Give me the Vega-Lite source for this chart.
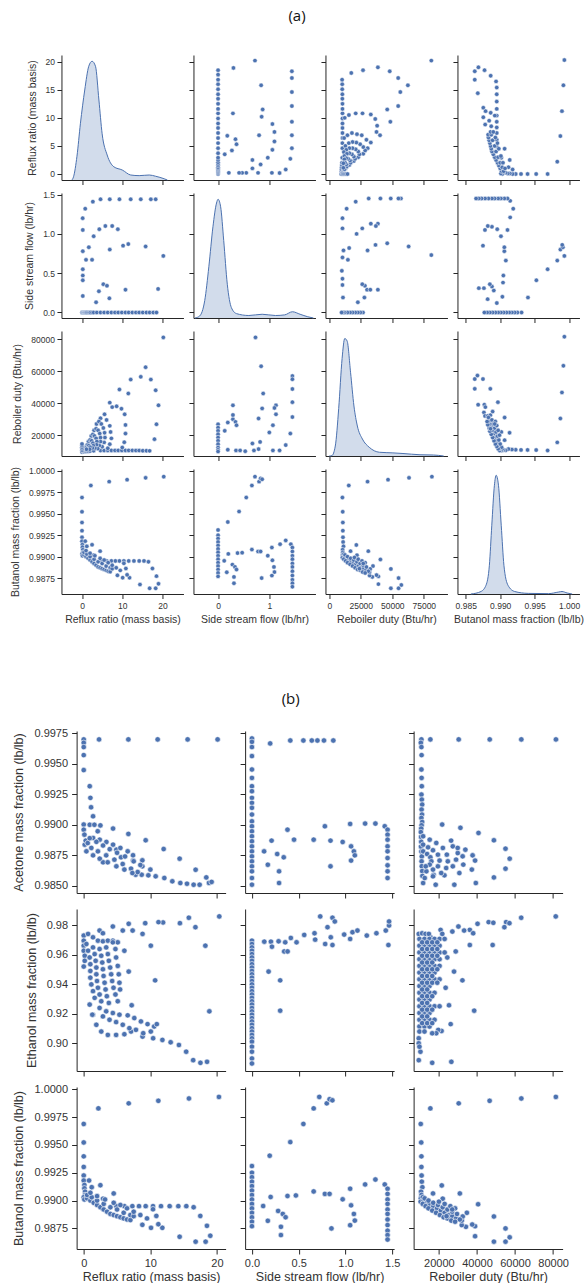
{
"$schema": "https://vega.github.io/schema/vega-lite/v6.json",
"padding": {"left": 10, "top": 9, "right": 0, "bottom": 0},
"background": "white",
"config": {
  "view": {"stroke": null},
  "axis": {"domainColor": "#262626", "tickColor": "#262626", "labelColor": "#333333", "titleColor": "#333333", "grid": false, "labelFont": "Liberation Sans", "titleFont": "Liberation Sans", "titleFontWeight": "normal", "domainWidth": 1, "tickWidth": 1, "tickSize": 4.5, "labelFontSize": 8.5, "titleFontSize": 10.5, "labelPadding": 2.5, "labelFlush": false, "labelOverlap": false},
  "axisX": {"titlePadding": 5},
  "axisY": {"titlePadding": 8},
  "title": {"font": "Open Sans", "fontSize": 15, "fontWeight": "normal", "color": "#111111", "anchor": "middle"}
},
"datasets": {
"kde_rr": [{"RR":-2.5,"density":0},{"RR":-2.1,"density":0.026},{"RR":-1.25,"density":0.19},{"RR":-0.4,"density":0.45},{"RR":0.68,"density":0.72},{"RR":1.68,"density":0.91},{"RR":2.5,"density":0.95},{"RR":3.35,"density":0.91},{"RR":4.2,"density":0.64},{"RR":5.0,"density":0.37},{"RR":6.25,"density":0.2},{"RR":7.9,"density":0.106},{"RR":10,"density":0.08},{"RR":12.1,"density":0.04},{"RR":14.2,"density":0.035},{"RR":16.7,"density":0.04},{"RR":18.3,"density":0.03},{"RR":20.4,"density":0.01},{"RR":21.2,"density":0}],
"kde_ss": [{"SS":-0.45,"density":0},{"SS":-0.36,"density":0.016},{"SS":-0.26,"density":0.14},{"SS":-0.18,"density":0.41},{"SS":-0.1,"density":0.73},{"SS":-0.03,"density":0.92},{"SS":0,"density":0.95},{"SS":0.05,"density":0.89},{"SS":0.11,"density":0.62},{"SS":0.18,"density":0.27},{"SS":0.26,"density":0.083},{"SS":0.36,"density":0.035},{"SS":0.6,"density":0.02},{"SS":0.86,"density":0.03},{"SS":1.12,"density":0.02},{"SS":1.3,"density":0.025},{"SS":1.45,"density":0.05},{"SS":1.6,"density":0.03},{"SS":1.75,"density":0.01},{"SS":1.86,"density":0}],
"kde_rd": [{"RD":0,"density":0},{"RD":2100,"density":0.003},{"RD":4800,"density":0.08},{"RD":7500,"density":0.38},{"RD":10200,"density":0.78},{"RD":12300,"density":0.94},{"RD":14200,"density":0.92},{"RD":16900,"density":0.67},{"RD":19600,"density":0.4},{"RD":22300,"density":0.24},{"RD":26300,"density":0.136},{"RD":31700,"density":0.07},{"RD":39800,"density":0.03},{"RD":50500,"density":0.025},{"RD":58500,"density":0.02},{"RD":72000,"density":0.01},{"RD":82700,"density":0.008},{"RD":90800,"density":0}],
"kde_bm": [{"BM":0.98574,"density":0},{"BM":0.98721,"density":0.02},{"BM":0.98794,"density":0.07},{"BM":0.98843,"density":0.23},{"BM":0.98878,"density":0.55},{"BM":0.98916,"density":0.87},{"BM":0.98941,"density":0.95},{"BM":0.98975,"density":0.87},{"BM":0.99015,"density":0.55},{"BM":0.99054,"density":0.23},{"BM":0.99113,"density":0.07},{"BM":0.9921,"density":0.02},{"BM":0.99407,"density":0.005},{"BM":0.99701,"density":0.003},{"BM":0.99849,"density":0.016},{"BM":0.99897,"density":0.02},{"BM":0.99971,"density":0.008},{"BM":1.00044,"density":0}],
"p1": [{"RR":0.17,"SS":1.2},{"RR":0.8,"SS":1.32},{"RR":0.2,"SS":1.05},{"RR":2.7,"SS":1.41},{"RR":4.6,"SS":1.44},{"RR":6.9,"SS":1.44},{"RR":9.3,"SS":1.44},{"RR":12.1,"SS":1.44},{"RR":14.6,"SS":1.44},{"RR":17.1,"SS":1.44},{"RR":18.3,"SS":1.44},{"RR":2.9,"SS":0.97},{"RR":4.3,"SS":1.06},{"RR":5.8,"SS":1.1},{"RR":7.5,"SS":1.1},{"RR":8.9,"SS":1.06},{"RR":1.7,"SS":0.83},{"RR":0.2,"SS":0.78},{"RR":1.0,"SS":0.67},{"RR":2.5,"SS":0.67},{"RR":6.9,"SS":0.8},{"RR":10.2,"SS":0.85},{"RR":11.5,"SS":0.87},{"RR":15.8,"SS":0.84},{"RR":20.2,"SS":0.72},{"RR":0.2,"SS":0.55},{"RR":0.2,"SS":0.47},{"RR":0.2,"SS":0.41},{"RR":0.2,"SS":0.21},{"RR":5.3,"SS":0.36},{"RR":6.2,"SS":0.34},{"RR":4.2,"SS":0.27},{"RR":6.8,"SS":0.18},{"RR":3.5,"SS":0.13},{"RR":10.8,"SS":0.29},{"RR":18.9,"SS":0.3},{"RR":0,"SS":0},{"RR":0.2,"SS":0},{"RR":0.4,"SS":0},{"RR":0.6,"SS":0},{"RR":0.8,"SS":0},{"RR":1.0,"SS":0},{"RR":1.2,"SS":0},{"RR":1.5,"SS":0},{"RR":1.8,"SS":0},{"RR":2.1,"SS":0},{"RR":2.5,"SS":0},{"RR":2.9,"SS":0},{"RR":3.7,"SS":0},{"RR":4.6,"SS":0},{"RR":5.5,"SS":0},{"RR":6.4,"SS":0},{"RR":7.3,"SS":0},{"RR":8.2,"SS":0},{"RR":9.0,"SS":0},{"RR":9.9,"SS":0},{"RR":10.8,"SS":0},{"RR":11.6,"SS":0},{"RR":12.5,"SS":0},{"RR":13.4,"SS":0},{"RR":14.2,"SS":0},{"RR":15.1,"SS":0},{"RR":16.0,"SS":0},{"RR":16.8,"SS":0},{"RR":17.7,"SS":0},{"RR":18.5,"SS":0}],
"p2": [{"RR":0,"RD":9500},{"RR":0.4,"RD":9700},{"RR":0.8,"RD":9800},{"RR":1.2,"RD":9900},{"RR":1.6,"RD":10000},{"RR":2.0,"RD":10100},{"RR":2.9,"RD":10300},{"RR":4.6,"RD":10400},{"RR":5.5,"RD":10400},{"RR":6.4,"RD":10500},{"RR":7.3,"RD":10500},{"RR":8.2,"RD":10500},{"RR":9.0,"RD":10500},{"RR":9.9,"RD":10500},{"RR":10.8,"RD":10500},{"RR":11.6,"RD":10500},{"RR":12.5,"RD":10500},{"RR":13.4,"RD":10400},{"RR":14.2,"RD":10400},{"RR":15.1,"RD":10300},{"RR":16.0,"RD":10300},{"RR":16.8,"RD":10200},{"RR":18.0,"RD":17500},{"RR":18.5,"RD":26800},{"RR":19.0,"RD":38600},{"RR":18.3,"RD":48000},{"RR":17.1,"RD":54700},{"RR":15.8,"RD":62400},{"RR":14.6,"RD":56400},{"RR":12.1,"RD":54700},{"RR":11.5,"RD":46000},{"RR":9.3,"RD":48500},{"RR":20.2,"RD":81000},{"RR":6.9,"RD":40300},{"RR":7.5,"RD":37500},{"RR":8.6,"RD":38000},{"RR":9.8,"RD":36500},{"RR":10.6,"RD":33000},{"RR":10.8,"RD":26400},{"RR":10.8,"RD":21000},{"RR":10.5,"RD":15600},{"RR":10.0,"RD":12300},{"RR":4.6,"RD":30500},{"RR":5.6,"RD":33000},{"RR":6.1,"RD":29500},{"RR":6.9,"RD":25800},{"RR":7.1,"RD":22000},{"RR":7.3,"RD":18000},{"RR":6.9,"RD":14400},{"RR":6.4,"RD":11800},{"RR":3.6,"RD":27000},{"RR":4.2,"RD":28500},{"RR":4.8,"RD":27000},{"RR":5.3,"RD":24500},{"RR":5.6,"RD":21500},{"RR":5.7,"RD":18500},{"RR":5.5,"RD":15500},{"RR":5.0,"RD":12800},{"RR":3.0,"RD":23000},{"RR":3.5,"RD":24000},{"RR":4.0,"RD":23000},{"RR":4.4,"RD":21000},{"RR":4.6,"RD":18500},{"RR":4.6,"RD":16000},{"RR":4.3,"RD":13500},{"RR":3.9,"RD":11600},{"RR":2.3,"RD":19500},{"RR":2.7,"RD":20500},{"RR":3.1,"RD":19500},{"RR":3.5,"RD":18000},{"RR":3.7,"RD":16000},{"RR":3.6,"RD":14000},{"RR":3.2,"RD":12000},{"RR":1.6,"RD":16000},{"RR":2.0,"RD":17000},{"RR":2.4,"RD":16500},{"RR":2.7,"RD":15000},{"RR":2.8,"RD":13500},{"RR":2.6,"RD":12000},{"RR":1.0,"RD":13000},{"RR":1.3,"RD":13800},{"RR":1.7,"RD":13500},{"RR":2.0,"RD":12500},{"RR":1.9,"RD":11200},{"RR":0.3,"RD":10500},{"RR":0.5,"RD":11500},{"RR":0.8,"RD":12000},{"RR":1.1,"RD":11200},{"RR":0,"RD":10500},{"RR":0,"RD":11500},{"RR":0,"RD":12500},{"RR":0,"RD":13500},{"RR":0,"RD":14500}],
"p3": [{"RR":20.3,"BM":0.99931},{"RR":15.8,"BM":0.99917},{"RR":11.2,"BM":0.99896},{"RR":6.75,"BM":0.99873},{"RR":2.2,"BM":0.99828},{"RR":0,"BM":0.99688},{"RR":0,"BM":0.99522},{"RR":0,"BM":0.99397},{"RR":0,"BM":0.99302},{"RR":0,"BM":0.99225},{"RR":0,"BM":0.9918},{"RR":0.1,"BM":0.9914},{"RR":0.1,"BM":0.9911},{"RR":0.2,"BM":0.9908},{"RR":0.2,"BM":0.9905},{"RR":0,"BM":0.9903},{"RR":0.1,"BM":0.9901},{"RR":0.8,"BM":0.9918},{"RR":1.2,"BM":0.9912},{"RR":2.5,"BM":0.99138},{"RR":4.5,"BM":0.99064},{"RR":2.9,"BM":0.99017},{"RR":2.8,"BM":0.98928},{"RR":4.9,"BM":0.9895},{"RR":6.1,"BM":0.9895},{"RR":7.3,"BM":0.9895},{"RR":8.3,"BM":0.9895},{"RR":9.3,"BM":0.9895},{"RR":10.4,"BM":0.9895},{"RR":11.6,"BM":0.9895},{"RR":12.9,"BM":0.9895},{"RR":14.2,"BM":0.9895},{"RR":15.4,"BM":0.9895},{"RR":16.5,"BM":0.9894},{"RR":17.5,"BM":0.98862},{"RR":18.5,"BM":0.98773},{"RR":19.0,"BM":0.98684},{"RR":18.3,"BM":0.98631},{"RR":16.8,"BM":0.98631},{"RR":14.4,"BM":0.98675},{"RR":11.8,"BM":0.98755},{"RR":11.2,"BM":0.98788},{"RR":10.1,"BM":0.98755},{"RR":8.8,"BM":0.98782},{"RR":10.9,"BM":0.98862},{"RR":10.4,"BM":0.98922},{"RR":0.5,"BM":0.9902},{"RR":1,"BM":0.99},{"RR":1.5,"BM":0.9898},{"RR":2,"BM":0.9896},{"RR":2.5,"BM":0.9894},{"RR":3,"BM":0.9892},{"RR":3.5,"BM":0.989},{"RR":4,"BM":0.9888},{"RR":4.5,"BM":0.9887},{"RR":5,"BM":0.9886},{"RR":5.5,"BM":0.9885},{"RR":6,"BM":0.9884},{"RR":6.5,"BM":0.9883},{"RR":7,"BM":0.98825},{"RR":0.5,"BM":0.9905},{"RR":1.2,"BM":0.9903},{"RR":2,"BM":0.99},{"RR":3,"BM":0.9897},{"RR":4,"BM":0.9894},{"RR":5,"BM":0.9892},{"RR":6,"BM":0.9889},{"RR":7,"BM":0.9887},{"RR":7.5,"BM":0.9886},{"RR":1,"BM":0.9907},{"RR":2,"BM":0.9904},{"RR":3.2,"BM":0.9901},{"RR":4.5,"BM":0.9898},{"RR":5.5,"BM":0.9896},{"RR":6.5,"BM":0.9893},{"RR":7.5,"BM":0.989},{"RR":8.5,"BM":0.9887},{"RR":9.5,"BM":0.9884}],
"p4": [{"SS":0,"RD":26800},{"SS":0,"RD":24700},{"SS":0,"RD":22700},{"SS":0,"RD":20600},{"SS":0,"RD":18500},{"SS":0,"RD":16500},{"SS":0,"RD":14400},{"SS":0,"RD":12300},{"SS":0,"RD":10900},{"SS":0,"RD":9800},{"SS":0.13,"RD":22700},{"SS":0.19,"RD":27900},{"SS":0.29,"RD":30000},{"SS":0.29,"RD":38600},{"SS":0.29,"RD":32600},{"SS":0.34,"RD":28300},{"SS":0.36,"RD":26200},{"SS":0.19,"RD":10900},{"SS":0.35,"RD":10500},{"SS":0.43,"RD":10500},{"SS":0.53,"RD":10000},{"SS":0.67,"RD":14800},{"SS":0.7,"RD":10500},{"SS":0.79,"RD":11300},{"SS":0.82,"RD":15800},{"SS":0.86,"RD":36700},{"SS":0.84,"RD":63000},{"SS":0.79,"RD":30400},{"SS":0.73,"RD":81000},{"SS":0.88,"RD":46000},{"SS":1.13,"RD":38600},{"SS":1.1,"RD":37000},{"SS":1.13,"RD":33000},{"SS":1.07,"RD":26200},{"SS":1.0,"RD":21700},{"SS":1.07,"RD":10500},{"SS":1.2,"RD":10500},{"SS":1.32,"RD":13800},{"SS":1.41,"RD":21000},{"SS":1.45,"RD":56900},{"SS":1.45,"RD":54900},{"SS":1.45,"RD":48800},{"SS":1.45,"RD":40600},{"SS":1.45,"RD":31300}],
"p5": [{"SS":0,"BM":0.9931},{"SS":0,"BM":0.9925},{"SS":0,"BM":0.9921},{"SS":0,"BM":0.9917},{"SS":0,"BM":0.9913},{"SS":0,"BM":0.9909},{"SS":0,"BM":0.9905},{"SS":0,"BM":0.9901},{"SS":0,"BM":0.9897},{"SS":0,"BM":0.9893},{"SS":0,"BM":0.9889},{"SS":0,"BM":0.9885},{"SS":0,"BM":0.9881},{"SS":0,"BM":0.9877},{"SS":0.12,"BM":0.98951},{"SS":0.17,"BM":0.98818},{"SS":0.19,"BM":0.99403},{"SS":0.2,"BM":0.99032},{"SS":0.28,"BM":0.98907},{"SS":0.33,"BM":0.9888},{"SS":0.36,"BM":0.9885},{"SS":0.31,"BM":0.98764},{"SS":0.31,"BM":0.9869},{"SS":0.38,"BM":0.99041},{"SS":0.41,"BM":0.99525},{"SS":0.47,"BM":0.99046},{"SS":0.55,"BM":0.99688},{"SS":0.66,"BM":0.99828},{"SS":0.72,"BM":0.99931},{"SS":0.8,"BM":0.99873},{"SS":0.83,"BM":0.9991},{"SS":0.86,"BM":0.999},{"SS":0.66,"BM":0.99082},{"SS":0.78,"BM":0.9906},{"SS":0.83,"BM":0.9906},{"SS":0.97,"BM":0.99011},{"SS":1.05,"BM":0.99106},{"SS":1.06,"BM":0.98957},{"SS":1.09,"BM":0.9888},{"SS":1.1,"BM":0.9882},{"SS":1.05,"BM":0.98779},{"SS":0.85,"BM":0.9875},{"SS":1.21,"BM":0.99145},{"SS":1.32,"BM":0.99189},{"SS":1.42,"BM":0.99145},{"SS":1.45,"BM":0.99106},{"SS":1.45,"BM":0.9906},{"SS":1.45,"BM":0.9901},{"SS":1.45,"BM":0.9897},{"SS":1.45,"BM":0.9892},{"SS":1.45,"BM":0.9888},{"SS":1.45,"BM":0.9883},{"SS":1.45,"BM":0.9878},{"SS":1.45,"BM":0.9873},{"SS":1.45,"BM":0.9869},{"SS":1.45,"BM":0.9865}],
"p6": [{"RD":81450,"BM":0.99931},{"RD":63300,"BM":0.99917},{"RD":46650,"BM":0.99896},{"RD":30400,"BM":0.99873},{"RD":15500,"BM":0.99828},{"RD":10450,"BM":0.99688},{"RD":10700,"BM":0.99522},{"RD":10800,"BM":0.99397},{"RD":10800,"BM":0.99302},{"RD":10900,"BM":0.99225},{"RD":11000,"BM":0.9917},{"RD":11300,"BM":0.9912},{"RD":10600,"BM":0.9908},{"RD":10800,"BM":0.9905},{"RD":10500,"BM":0.9902},{"RD":10400,"BM":0.9899},{"RD":11500,"BM":0.9903},{"RD":21500,"BM":0.99136},{"RD":16900,"BM":0.99064},{"RD":22000,"BM":0.99017},{"RD":31000,"BM":0.99064},{"RD":40600,"BM":0.98967},{"RD":34700,"BM":0.9889},{"RD":48900,"BM":0.98857},{"RD":55000,"BM":0.9875},{"RD":57200,"BM":0.9867},{"RD":55000,"BM":0.98631},{"RD":48900,"BM":0.98631},{"RD":39000,"BM":0.9868},{"RD":39000,"BM":0.9877},{"RD":37500,"BM":0.98785},{"RD":34200,"BM":0.98764},{"RD":32000,"BM":0.9878},{"RD":32000,"BM":0.9882},{"RD":32500,"BM":0.98857},{"RD":15800,"BM":0.9894},{"RD":12000,"BM":0.99},{"RD":13500,"BM":0.9898},{"RD":15000,"BM":0.9897},{"RD":17000,"BM":0.9895},{"RD":19000,"BM":0.9893},{"RD":21000,"BM":0.9891},{"RD":23000,"BM":0.9889},{"RD":25000,"BM":0.9887},{"RD":27000,"BM":0.9886},{"RD":29000,"BM":0.9884},{"RD":31000,"BM":0.9883},{"RD":12500,"BM":0.9902},{"RD":14500,"BM":0.99},{"RD":17000,"BM":0.9898},{"RD":19500,"BM":0.9896},{"RD":22000,"BM":0.9894},{"RD":24500,"BM":0.9892},{"RD":27000,"BM":0.989},{"RD":29500,"BM":0.9888},{"RD":11500,"BM":0.9897},{"RD":13000,"BM":0.9895},{"RD":14500,"BM":0.9893},{"RD":16500,"BM":0.9891},{"RD":18500,"BM":0.9889},{"RD":20500,"BM":0.9887},{"RD":22500,"BM":0.9885},{"RD":24500,"BM":0.9884},{"RD":26500,"BM":0.9882},{"RD":28500,"BM":0.9881},{"RD":20000,"BM":0.9899},{"RD":23000,"BM":0.9897},{"RD":26000,"BM":0.9895},{"RD":28500,"BM":0.9893},{"RD":24000,"BM":0.9886},{"RD":27000,"BM":0.9892}],
"p7": [{"RR":2.3,"AM":0.99701},{"RR":6.7,"AM":0.99701},{"RR":11.1,"AM":0.99701},{"RR":15.6,"AM":0.99701},{"RR":20.1,"AM":0.99701},{"RR":0,"AM":0.99701},{"RR":0,"AM":0.99673},{"RR":0,"AM":0.99638},{"RR":0,"AM":0.99572},{"RR":0,"AM":0.99449},{"RR":0,"AM":0.99002},{"RR":0,"AM":0.9896},{"RR":0.1,"AM":0.98919},{"RR":0.9,"AM":0.99317},{"RR":1.0,"AM":0.99221},{"RR":1.1,"AM":0.99144},{"RR":1.4,"AM":0.9907},{"RR":0.9,"AM":0.99},{"RR":1.6,"AM":0.99},{"RR":2.5,"AM":0.98995},{"RR":2.1,"AM":0.98947},{"RR":4.4,"AM":0.98969},{"RR":6.7,"AM":0.98925},{"RR":9.3,"AM":0.98873},{"RR":12.0,"AM":0.98801},{"RR":14.4,"AM":0.98722},{"RR":16.8,"AM":0.98631},{"RR":18.4,"AM":0.98568},{"RR":18.8,"AM":0.98523},{"RR":19.2,"AM":0.98531},{"RR":17.4,"AM":0.98508},{"RR":16.5,"AM":0.98508},{"RR":15.5,"AM":0.98516},{"RR":14.5,"AM":0.98522},{"RR":13.3,"AM":0.98536},{"RR":12.1,"AM":0.98563},{"RR":10.8,"AM":0.98577},{"RR":9.7,"AM":0.98585},{"RR":8.7,"AM":0.9859},{"RR":7.8,"AM":0.9859},{"RR":10.0,"AM":0.98632},{"RR":8.8,"AM":0.98659},{"RR":7.4,"AM":0.98706},{"RR":8.8,"AM":0.98708},{"RR":7.4,"AM":0.9875},{"RR":4.9,"AM":0.98796},{"RR":5.6,"AM":0.98733},{"RR":2.9,"AM":0.98692},{"RR":0.15,"AM":0.98837},{"RR":1.14,"AM":0.9881},{"RR":2.13,"AM":0.98782},{"RR":3.37,"AM":0.98749},{"RR":4.6,"AM":0.98714},{"RR":5.85,"AM":0.98678},{"RR":7.1,"AM":0.9864},{"RR":8.1,"AM":0.98612},{"RR":1.4,"AM":0.98892},{"RR":2.4,"AM":0.98878},{"RR":3.4,"AM":0.98859},{"RR":4.4,"AM":0.98837},{"RR":5.5,"AM":0.9881},{"RR":6.6,"AM":0.98782},{"RR":0.4,"AM":0.98782},{"RR":1.4,"AM":0.98749},{"RR":2.4,"AM":0.98722},{"RR":3.6,"AM":0.98692},{"RR":4.9,"AM":0.98659},{"RR":6.1,"AM":0.98632},{"RR":7.3,"AM":0.98604},{"RR":0.3,"AM":0.9887},{"RR":0.6,"AM":0.9885},{"RR":0.9,"AM":0.9889},{"RR":1.9,"AM":0.9886},{"RR":2.9,"AM":0.9883},{"RR":3.9,"AM":0.988},{"RR":5.0,"AM":0.9877},{"RR":6.2,"AM":0.9874},{"RR":7.5,"AM":0.987},{"RR":8.5,"AM":0.9867}],
"p8": [{"SS":0,"AM":0.99709},{"SS":0,"AM":0.99681},{"SS":0,"AM":0.99638},{"SS":0,"AM":0.99564},{"SS":0,"AM":0.99454},{"SS":0,"AM":0.99385},{"SS":0,"AM":0.99317},{"SS":0,"AM":0.99276},{"SS":0,"AM":0.99221},{"SS":0,"AM":0.9918},{"SS":0,"AM":0.99139},{"SS":0,"AM":0.99084},{"SS":0,"AM":0.99029},{"SS":0,"AM":0.98988},{"SS":0,"AM":0.98947},{"SS":0,"AM":0.98906},{"SS":0,"AM":0.98865},{"SS":0,"AM":0.98823},{"SS":0,"AM":0.98782},{"SS":0,"AM":0.98741},{"SS":0,"AM":0.987},{"SS":0,"AM":0.98659},{"SS":0,"AM":0.98618},{"SS":0,"AM":0.98563},{"SS":0,"AM":0.98508},{"SS":0.195,"AM":0.99668},{"SS":0.41,"AM":0.99692},{"SS":0.55,"AM":0.99692},{"SS":0.64,"AM":0.99692},{"SS":0.7,"AM":0.99692},{"SS":0.77,"AM":0.99692},{"SS":0.87,"AM":0.99692},{"SS":0.13,"AM":0.98782},{"SS":0.17,"AM":0.98672},{"SS":0.21,"AM":0.9887},{"SS":0.27,"AM":0.9876},{"SS":0.29,"AM":0.98618},{"SS":0.29,"AM":0.98522},{"SS":0.34,"AM":0.98733},{"SS":0.38,"AM":0.9896},{"SS":0.45,"AM":0.98878},{"SS":0.66,"AM":0.98878},{"SS":0.78,"AM":0.98988},{"SS":0.84,"AM":0.9887},{"SS":0.84,"AM":0.98659},{"SS":0.97,"AM":0.98859},{"SS":1.06,"AM":0.98823},{"SS":1.09,"AM":0.98782},{"SS":1.1,"AM":0.98749},{"SS":1.06,"AM":0.98706},{"SS":1.05,"AM":0.99007},{"SS":1.21,"AM":0.9901},{"SS":1.32,"AM":0.9901},{"SS":1.42,"AM":0.98988},{"SS":1.45,"AM":0.9896},{"SS":1.45,"AM":0.98919},{"SS":1.45,"AM":0.98878},{"SS":1.45,"AM":0.98823},{"SS":1.45,"AM":0.98782},{"SS":1.45,"AM":0.98727},{"SS":1.45,"AM":0.98667},{"SS":1.45,"AM":0.98618},{"SS":1.45,"AM":0.98563}],
"p9": [{"RD":10800,"AM":0.99701},{"RD":15500,"AM":0.99701},{"RD":30400,"AM":0.99701},{"RD":46700,"AM":0.99701},{"RD":63300,"AM":0.99701},{"RD":81500,"AM":0.99701},{"RD":10500,"AM":0.99673},{"RD":10800,"AM":0.99638},{"RD":10900,"AM":0.99572},{"RD":10800,"AM":0.99454},{"RD":10900,"AM":0.99385},{"RD":11000,"AM":0.99317},{"RD":10800,"AM":0.99248},{"RD":11000,"AM":0.99207},{"RD":11200,"AM":0.99166},{"RD":10900,"AM":0.99125},{"RD":11100,"AM":0.99084},{"RD":10800,"AM":0.99056},{"RD":11200,"AM":0.99023},{"RD":10900,"AM":0.98996},{"RD":10700,"AM":0.98969},{"RD":10500,"AM":0.9894},{"RD":10600,"AM":0.989},{"RD":10700,"AM":0.9886},{"RD":10600,"AM":0.9882},{"RD":10800,"AM":0.9878},{"RD":11000,"AM":0.9874},{"RD":10900,"AM":0.987},{"RD":11000,"AM":0.9866},{"RD":11200,"AM":0.9862},{"RD":11300,"AM":0.9858},{"RD":21700,"AM":0.99002},{"RD":31300,"AM":0.98975},{"RD":40800,"AM":0.98933},{"RD":48900,"AM":0.98873},{"RD":55000,"AM":0.98804},{"RD":57200,"AM":0.98722},{"RD":55000,"AM":0.9864},{"RD":48900,"AM":0.98568},{"RD":39400,"AM":0.98522},{"RD":28100,"AM":0.98508},{"RD":18300,"AM":0.98508},{"RD":11700,"AM":0.98522},{"RD":33900,"AM":0.98796},{"RD":37700,"AM":0.98749},{"RD":39000,"AM":0.98706},{"RD":37300,"AM":0.98632},{"RD":27300,"AM":0.98823},{"RD":29900,"AM":0.98768},{"RD":29000,"AM":0.98714},{"RD":27300,"AM":0.98659},{"RD":22900,"AM":0.98585},{"RD":17200,"AM":0.9859},{"RD":11690,"AM":0.98906},{"RD":15150,"AM":0.98878},{"RD":18610,"AM":0.98851},{"RD":22080,"AM":0.9881},{"RD":24160,"AM":0.98755},{"RD":24680,"AM":0.987},{"RD":23810,"AM":0.98645},{"RD":21210,"AM":0.98604},{"RD":16880,"AM":0.98577},{"RD":12550,"AM":0.98563},{"RD":11690,"AM":0.98837},{"RD":14290,"AM":0.98815},{"RD":16880,"AM":0.98791},{"RD":19480,"AM":0.98755},{"RD":20350,"AM":0.98706},{"RD":19480,"AM":0.98659},{"RD":16880,"AM":0.98632},{"RD":13420,"AM":0.98618},{"RD":11690,"AM":0.98782},{"RD":13770,"AM":0.9876},{"RD":15500,"AM":0.98733},{"RD":16020,"AM":0.987},{"RD":15150,"AM":0.98673},{"RD":13070,"AM":0.98659},{"RD":26400,"AM":0.9887},{"RD":29870,"AM":0.9881},{"RD":32470,"AM":0.98741},{"RD":32810,"AM":0.98673},{"RD":30740,"AM":0.98604}],
"p10": [{"RR":20.35,"EM":0.98617},{"RR":15.78,"EM":0.98526},{"RR":14.44,"EM":0.9816},{"RR":11.91,"EM":0.98206},{"RR":11.22,"EM":0.98229},{"RR":9.23,"EM":0.9816},{"RR":6.75,"EM":0.98114},{"RR":16.77,"EM":0.97886},{"RR":4.37,"EM":0.97931},{"RR":2.38,"EM":0.97657},{"RR":2.88,"EM":0.97474},{"RR":5.86,"EM":0.97657},{"RR":7.34,"EM":0.97657},{"RR":8.83,"EM":0.97429},{"RR":10.07,"EM":0.96629},{"RR":18.26,"EM":0.96629},{"RR":6.1,"EM":0.96286},{"RR":6.75,"EM":0.94869},{"RR":10.72,"EM":0.94274},{"RR":18.86,"EM":0.92171},{"RR":7.2,"EM":0.92583},{"RR":15.38,"EM":0.89429},{"RR":16.43,"EM":0.88857},{"RR":17.52,"EM":0.88674},{"RR":18.51,"EM":0.88743},{"RR":14.29,"EM":0.89886},{"RR":13.05,"EM":0.90069},{"RR":11.81,"EM":0.90229},{"RR":10.42,"EM":0.90343},{"RR":8.83,"EM":0.90457},{"RR":7.1,"EM":0.908},{"RR":6.1,"EM":0.90617},{"RR":4.86,"EM":0.90571},{"RR":3.62,"EM":0.90571},{"RR":2.63,"EM":0.908},{"RR":1.89,"EM":0.91257},{"RR":1.39,"EM":0.91943},{"RR":2.38,"EM":0.924},{"RR":3.37,"EM":0.92171},{"RR":4.37,"EM":0.92057},{"RR":5.36,"EM":0.91943},{"RR":6.6,"EM":0.91897},{"RR":7.59,"EM":0.91714},{"RR":8.59,"EM":0.91486},{"RR":9.58,"EM":0.91303},{"RR":10.57,"EM":0.91143},{"RR":10.97,"EM":0.91303},{"RR":2.88,"EM":0.91829},{"RR":3.87,"EM":0.916},{"RR":4.86,"EM":0.9144},{"RR":5.86,"EM":0.91257},{"RR":6.85,"EM":0.91029},{"RR":7.84,"EM":0.90914},{"RR":8.93,"EM":0.90686},{"RR":10.07,"EM":0.908},{"RR":0,"EM":0.97314},{"RR":0,"EM":0.96971},{"RR":0,"EM":0.96629},{"RR":0,"EM":0.96286},{"RR":0.15,"EM":0.95943},{"RR":0.15,"EM":0.956},{"RR":0,"EM":0.95211},{"RR":0.65,"EM":0.97429},{"RR":1.39,"EM":0.972},{"RR":2.13,"EM":0.96971},{"RR":2.88,"EM":0.96926},{"RR":3.62,"EM":0.96971},{"RR":4.37,"EM":0.96971},{"RR":5.11,"EM":0.96857},{"RR":0.4,"EM":0.96743},{"RR":0.65,"EM":0.96286},{"RR":0.89,"EM":0.95829},{"RR":0.99,"EM":0.95371},{"RR":0.99,"EM":0.94914},{"RR":0.99,"EM":0.94457},{"RR":1.14,"EM":0.94},{"RR":1.39,"EM":0.93543},{"RR":1.64,"EM":0.93086},{"RR":1.39,"EM":0.96514},{"RR":1.64,"EM":0.96057},{"RR":1.79,"EM":0.956},{"RR":1.89,"EM":0.95143},{"RR":1.89,"EM":0.94686},{"RR":1.99,"EM":0.94229},{"RR":2.13,"EM":0.93771},{"RR":2.38,"EM":0.93314},{"RR":2.63,"EM":0.92857},{"RR":2.38,"EM":0.964},{"RR":2.63,"EM":0.95943},{"RR":2.78,"EM":0.95486},{"RR":2.88,"EM":0.95029},{"RR":2.98,"EM":0.94571},{"RR":3.13,"EM":0.94114},{"RR":3.28,"EM":0.93657},{"RR":3.47,"EM":0.932},{"RR":3.77,"EM":0.92743},{"RR":3.37,"EM":0.96514},{"RR":3.62,"EM":0.96057},{"RR":3.77,"EM":0.956},{"RR":3.97,"EM":0.95143},{"RR":4.12,"EM":0.94686},{"RR":4.27,"EM":0.94229},{"RR":4.47,"EM":0.93771},{"RR":4.76,"EM":0.93314},{"RR":5.11,"EM":0.92857},{"RR":4.37,"EM":0.96857},{"RR":4.76,"EM":0.964},{"RR":4.86,"EM":0.95829},{"RR":5.11,"EM":0.95257},{"RR":5.26,"EM":0.94686},{"RR":5.36,"EM":0.94114},{"RR":5.46,"EM":0.93657},{"RR":0.89,"EM":0.92629},{"RR":1.29,"EM":0.91943}],
"p11": [{"SS":0,"EM":0.96971},{"SS":0,"EM":0.96743},{"SS":0,"EM":0.96514},{"SS":0,"EM":0.96286},{"SS":0,"EM":0.96057},{"SS":0,"EM":0.95829},{"SS":0,"EM":0.956},{"SS":0,"EM":0.95371},{"SS":0,"EM":0.95143},{"SS":0,"EM":0.94914},{"SS":0,"EM":0.94686},{"SS":0,"EM":0.94457},{"SS":0,"EM":0.94229},{"SS":0,"EM":0.94},{"SS":0,"EM":0.93771},{"SS":0,"EM":0.93543},{"SS":0,"EM":0.93314},{"SS":0,"EM":0.93086},{"SS":0,"EM":0.92857},{"SS":0,"EM":0.92629},{"SS":0,"EM":0.924},{"SS":0,"EM":0.92171},{"SS":0,"EM":0.91943},{"SS":0,"EM":0.91714},{"SS":0,"EM":0.91486},{"SS":0,"EM":0.91257},{"SS":0,"EM":0.91029},{"SS":0,"EM":0.908},{"SS":0,"EM":0.90571},{"SS":0,"EM":0.90343},{"SS":0,"EM":0.90114},{"SS":0,"EM":0.89771},{"SS":0,"EM":0.89429},{"SS":0,"EM":0.88971},{"SS":0,"EM":0.88629},{"SS":0.132,"EM":0.96903},{"SS":0.203,"EM":0.96903},{"SS":0.214,"EM":0.9656},{"SS":0.285,"EM":0.96926},{"SS":0.356,"EM":0.96857},{"SS":0.416,"EM":0.97154},{"SS":0.477,"EM":0.96857},{"SS":0.559,"EM":0.9736},{"SS":0.669,"EM":0.97474},{"SS":0.676,"EM":0.9704},{"SS":0.783,"EM":0.96743},{"SS":0.808,"EM":0.97886},{"SS":0.73,"EM":0.98617},{"SS":0.843,"EM":0.972},{"SS":0.861,"EM":0.96674},{"SS":0.861,"EM":0.98526},{"SS":0.886,"EM":0.98274},{"SS":0.986,"EM":0.97383},{"SS":1.05,"EM":0.97086},{"SS":1.075,"EM":0.97543},{"SS":1.128,"EM":0.97657},{"SS":1.228,"EM":0.97314},{"SS":1.331,"EM":0.97474},{"SS":1.431,"EM":0.97657},{"SS":1.466,"EM":0.98},{"SS":1.466,"EM":0.98274},{"SS":1.459,"EM":0.96674},{"SS":0.345,"EM":0.9624},{"SS":0.381,"EM":0.9624},{"SS":0.178,"EM":0.94869},{"SS":0.302,"EM":0.94274},{"SS":0.302,"EM":0.92217}],
"p12": [{"RD":81400,"EM":0.98617},{"RD":63240,"EM":0.98526},{"RD":55300,"EM":0.98229},{"RD":57060,"EM":0.9816},{"RD":54400,"EM":0.97886},{"RD":46120,"EM":0.98229},{"RD":48590,"EM":0.98183},{"RD":40300,"EM":0.98114},{"RD":36240,"EM":0.97703},{"RD":38000,"EM":0.97474},{"RD":33240,"EM":0.97657},{"RD":30240,"EM":0.97931},{"RD":27060,"EM":0.97589},{"RD":20880,"EM":0.97703},{"RD":21770,"EM":0.97429},{"RD":15590,"EM":0.972},{"RD":36240,"EM":0.96674},{"RD":48240,"EM":0.96674},{"RD":9400,"EM":0.9743},{"RD":11170,"EM":0.9747},{"RD":12940,"EM":0.9743},{"RD":14710,"EM":0.9743},{"RD":28830,"EM":0.9624},{"RD":24400,"EM":0.95829},{"RD":27940,"EM":0.94869},{"RD":32350,"EM":0.94274},{"RD":23530,"EM":0.93771},{"RD":25300,"EM":0.92583},{"RD":38530,"EM":0.92217},{"RD":26180,"EM":0.91303},{"RD":21410,"EM":0.9084},{"RD":19650,"EM":0.9091},{"RD":18590,"EM":0.9068},{"RD":16470,"EM":0.9068},{"RD":10290,"EM":0.89429},{"RD":9410,"EM":0.88857},{"RD":16470,"EM":0.88674},{"RD":26530,"EM":0.88743},{"RD":9400,"EM":0.90343},{"RD":9400,"EM":0.9},{"RD":9760,"EM":0.89771},
{"RD":9760,"EM":0.97086},{"RD":12410,"EM":0.97086},{"RD":15060,"EM":0.97086},{"RD":17700,"EM":0.97086},{"RD":20350,"EM":0.97086},{"RD":23000,"EM":0.97086},
{"RD":9760,"EM":0.96629},{"RD":12410,"EM":0.96629},{"RD":15060,"EM":0.96629},{"RD":17700,"EM":0.96629},{"RD":20350,"EM":0.96629},
{"RD":9760,"EM":0.96171},{"RD":12410,"EM":0.96171},{"RD":15060,"EM":0.96171},{"RD":17700,"EM":0.96171},{"RD":20350,"EM":0.96171},{"RD":23000,"EM":0.96171},
{"RD":9760,"EM":0.95714},{"RD":12410,"EM":0.95714},{"RD":15060,"EM":0.95714},{"RD":17700,"EM":0.95714},{"RD":20350,"EM":0.95714},
{"RD":9760,"EM":0.95257},{"RD":12410,"EM":0.95257},{"RD":15060,"EM":0.95257},{"RD":17700,"EM":0.95257},{"RD":20350,"EM":0.95257},
{"RD":9760,"EM":0.948},{"RD":12410,"EM":0.948},{"RD":15060,"EM":0.948},{"RD":17700,"EM":0.948},
{"RD":9760,"EM":0.94343},{"RD":12410,"EM":0.94343},{"RD":15060,"EM":0.94343},{"RD":17700,"EM":0.94343},{"RD":20350,"EM":0.94343},
{"RD":9760,"EM":0.93886},{"RD":12410,"EM":0.93886},{"RD":15060,"EM":0.93886},
{"RD":9760,"EM":0.93429},{"RD":12410,"EM":0.93429},{"RD":15060,"EM":0.93429},{"RD":17700,"EM":0.93429},
{"RD":9760,"EM":0.92971},{"RD":12410,"EM":0.92971},{"RD":15060,"EM":0.92971},
{"RD":9760,"EM":0.92514},{"RD":12410,"EM":0.92514},{"RD":15060,"EM":0.92514},{"RD":17700,"EM":0.92514},{"RD":20350,"EM":0.92514},
{"RD":9760,"EM":0.92057},{"RD":12410,"EM":0.92057},{"RD":15060,"EM":0.92057},
{"RD":9760,"EM":0.916},{"RD":12410,"EM":0.916},{"RD":15060,"EM":0.916},{"RD":17700,"EM":0.916},
{"RD":9760,"EM":0.91143},{"RD":12410,"EM":0.91143},{"RD":15060,"EM":0.91143},
{"RD":9760,"EM":0.908},{"RD":12410,"EM":0.908},
{"RD":11170,"EM":0.96857},{"RD":13820,"EM":0.96857},{"RD":16470,"EM":0.96857},{"RD":19120,"EM":0.96857},
{"RD":11170,"EM":0.964},{"RD":13820,"EM":0.964},{"RD":16470,"EM":0.964},{"RD":19120,"EM":0.964},
{"RD":11170,"EM":0.95943},{"RD":13820,"EM":0.95943},{"RD":16470,"EM":0.95943},{"RD":19120,"EM":0.95943},
{"RD":11170,"EM":0.95486},{"RD":13820,"EM":0.95486},{"RD":16470,"EM":0.95486},
{"RD":11170,"EM":0.95029},{"RD":13820,"EM":0.95029},{"RD":16470,"EM":0.95029},{"RD":19120,"EM":0.95029},
{"RD":11170,"EM":0.94571},{"RD":13820,"EM":0.94571},{"RD":16470,"EM":0.94571},
{"RD":11170,"EM":0.94114},{"RD":13820,"EM":0.94114},{"RD":16470,"EM":0.94114},{"RD":19120,"EM":0.94114},
{"RD":11170,"EM":0.93657},{"RD":13820,"EM":0.93657},
{"RD":11170,"EM":0.932},{"RD":13820,"EM":0.932},{"RD":16470,"EM":0.932},
{"RD":11170,"EM":0.92743},{"RD":13820,"EM":0.92743},
{"RD":11170,"EM":0.92286},{"RD":13820,"EM":0.92286},{"RD":16470,"EM":0.92286},
{"RD":11170,"EM":0.91829},{"RD":13820,"EM":0.91829},
{"RD":11170,"EM":0.91371},{"RD":13820,"EM":0.91371},{"RD":16470,"EM":0.91371}]
},
"center": true,
"vconcat": [
{
 "title": {"text": "(a)", "offset": 31},
 "columns": 4,
 "spacing": {"row": 13, "column": 10},
 "bounds": "flush",
 "concat": [
  {"width": 122, "height": 125, "layer": [
    {"data": {"name": "kde_rr"}, "mark": {"type": "area", "color": "#4C72B0", "fillOpacity": 0.25, "interpolate": "monotone", "line": {"color": "#4C72B0", "strokeWidth": 1}},
     "encoding": {"x": {"field": "RR", "type": "quantitative", "scale": {"domain": [-5.1, 25.2], "nice": false, "zero": false}, "axis": {"values": [0, 10, 20], "labels": false, "title": null}},
                  "y": {"field": "density", "type": "quantitative", "scale": {"domain": [0, 1], "nice": false}, "axis": null}}},
    {"data": {"name": "kde_rr"}, "mark": {"type": "point", "opacity": 0},
     "encoding": {"y": {"datum": 0, "type": "quantitative", "scale": {"domain": [-1.07, 21.2], "nice": false, "zero": false}, "axis": {"orient": "left", "values": [0, 5, 10, 15, 20], "format": "d", "title": "Reflux ratio (mass basis)"}}}}
   ], "resolve": {"scale": {"y": "independent"}}},
  {"width": 122, "height": 125, "data": {"name": "p1"}, "mark": {"type": "circle", "size": 20, "color": "#4C72B0", "stroke": "#ffffff", "strokeWidth": 0.5, "opacity": 1},
   "encoding": {"x": {"field": "SS", "type": "quantitative", "scale": {"domain": [-0.48, 1.9], "nice": false, "zero": false}, "axis": {"values": [0, 1], "labels": false, "title": null}},
                "y": {"field": "RR", "type": "quantitative", "scale": {"domain": [-1.07, 21.2], "nice": false, "zero": false}, "axis": {"values": [0, 5, 10, 15, 20], "labels": false, "title": null}}}},
  {"width": 122, "height": 125, "data": {"name": "p2"}, "mark": {"type": "circle", "size": 20, "color": "#4C72B0", "stroke": "#ffffff", "strokeWidth": 0.5, "opacity": 1},
   "encoding": {"x": {"field": "RD", "type": "quantitative", "scale": {"domain": [-3000, 93800], "nice": false, "zero": false}, "axis": {"values": [0, 25000, 50000, 75000], "labels": false, "title": null}},
                "y": {"field": "RR", "type": "quantitative", "scale": {"domain": [-1.07, 21.2], "nice": false, "zero": false}, "axis": {"values": [0, 5, 10, 15, 20], "labels": false, "title": null}}}},
  {"width": 122, "height": 125, "data": {"name": "p3"}, "mark": {"type": "circle", "size": 20, "color": "#4C72B0", "stroke": "#ffffff", "strokeWidth": 0.5, "opacity": 1},
   "encoding": {"x": {"field": "BM", "type": "quantitative", "scale": {"domain": [0.9838, 1.0015], "nice": false, "zero": false}, "axis": {"values": [0.985, 0.99, 0.995, 1.0], "labels": false, "title": null}},
                "y": {"field": "RR", "type": "quantitative", "scale": {"domain": [-1.07, 21.2], "nice": false, "zero": false}, "axis": {"values": [0, 5, 10, 15, 20], "labels": false, "title": null}}}},

  {"width": 122, "height": 125, "data": {"name": "p1"}, "mark": {"type": "circle", "size": 20, "color": "#4C72B0", "stroke": "#ffffff", "strokeWidth": 0.5, "opacity": 1},
   "encoding": {"x": {"field": "RR", "type": "quantitative", "scale": {"domain": [-5.1, 25.2], "nice": false, "zero": false}, "axis": {"values": [0, 10, 20], "labels": false, "title": null}},
                "y": {"field": "SS", "type": "quantitative", "scale": {"domain": [-0.07, 1.52], "nice": false, "zero": false}, "axis": {"values": [0, 0.5, 1, 1.5], "format": ".1f", "title": "Side stream flow (lb/hr)"}}}},
  {"width": 122, "height": 125, "layer": [
    {"data": {"name": "kde_ss"}, "mark": {"type": "area", "color": "#4C72B0", "fillOpacity": 0.25, "interpolate": "monotone", "line": {"color": "#4C72B0", "strokeWidth": 1}},
     "encoding": {"x": {"field": "SS", "type": "quantitative", "scale": {"domain": [-0.48, 1.9], "nice": false, "zero": false}, "axis": {"values": [0, 1], "labels": false, "title": null}},
                  "y": {"field": "density", "type": "quantitative", "scale": {"domain": [0, 1], "nice": false}, "axis": null}}},
    {"data": {"name": "kde_ss"}, "mark": {"type": "point", "opacity": 0},
     "encoding": {"y": {"datum": 0, "type": "quantitative", "scale": {"domain": [-0.07, 1.52], "nice": false, "zero": false}, "axis": {"orient": "left", "values": [0, 0.5, 1, 1.5], "labels": false, "title": null}}}}
   ], "resolve": {"scale": {"y": "independent"}}},
  {"width": 122, "height": 125, "data": {"name": "p4"}, "mark": {"type": "circle", "size": 20, "color": "#4C72B0", "stroke": "#ffffff", "strokeWidth": 0.5, "opacity": 1},
   "encoding": {"x": {"field": "RD", "type": "quantitative", "scale": {"domain": [-3000, 93800], "nice": false, "zero": false}, "axis": {"values": [0, 25000, 50000, 75000], "labels": false, "title": null}},
                "y": {"field": "SS", "type": "quantitative", "scale": {"domain": [-0.07, 1.52], "nice": false, "zero": false}, "axis": {"values": [0, 0.5, 1, 1.5], "labels": false, "title": null}}}},
  {"width": 122, "height": 125, "data": {"name": "p5"}, "mark": {"type": "circle", "size": 20, "color": "#4C72B0", "stroke": "#ffffff", "strokeWidth": 0.5, "opacity": 1},
   "encoding": {"x": {"field": "BM", "type": "quantitative", "scale": {"domain": [0.9838, 1.0015], "nice": false, "zero": false}, "axis": {"values": [0.985, 0.99, 0.995, 1.0], "labels": false, "title": null}},
                "y": {"field": "SS", "type": "quantitative", "scale": {"domain": [-0.07, 1.52], "nice": false, "zero": false}, "axis": {"values": [0, 0.5, 1, 1.5], "labels": false, "title": null}}}},

  {"width": 122, "height": 125, "data": {"name": "p2"}, "mark": {"type": "circle", "size": 20, "color": "#4C72B0", "stroke": "#ffffff", "strokeWidth": 0.5, "opacity": 1},
   "encoding": {"x": {"field": "RR", "type": "quantitative", "scale": {"domain": [-5.1, 25.2], "nice": false, "zero": false}, "axis": {"values": [0, 10, 20], "labels": false, "title": null}},
                "y": {"field": "RD", "type": "quantitative", "scale": {"domain": [7000, 85000], "nice": false, "zero": false}, "axis": {"values": [20000, 40000, 60000, 80000], "format": "d", "title": "Reboiler duty (Btu/hr)"}}}},
  {"width": 122, "height": 125, "data": {"name": "p4"}, "mark": {"type": "circle", "size": 20, "color": "#4C72B0", "stroke": "#ffffff", "strokeWidth": 0.5, "opacity": 1},
   "encoding": {"x": {"field": "SS", "type": "quantitative", "scale": {"domain": [-0.48, 1.9], "nice": false, "zero": false}, "axis": {"values": [0, 1], "labels": false, "title": null}},
                "y": {"field": "RD", "type": "quantitative", "scale": {"domain": [7000, 85000], "nice": false, "zero": false}, "axis": {"values": [20000, 40000, 60000, 80000], "labels": false, "title": null}}}},
  {"width": 122, "height": 125, "layer": [
    {"data": {"name": "kde_rd"}, "mark": {"type": "area", "color": "#4C72B0", "fillOpacity": 0.25, "interpolate": "monotone", "line": {"color": "#4C72B0", "strokeWidth": 1}},
     "encoding": {"x": {"field": "RD", "type": "quantitative", "scale": {"domain": [-3000, 93800], "nice": false, "zero": false}, "axis": {"values": [0, 25000, 50000, 75000], "labels": false, "title": null}},
                  "y": {"field": "density", "type": "quantitative", "scale": {"domain": [0, 1], "nice": false}, "axis": null}}},
    {"data": {"name": "kde_rd"}, "mark": {"type": "point", "opacity": 0},
     "encoding": {"y": {"datum": 20000, "type": "quantitative", "scale": {"domain": [7000, 85000], "nice": false, "zero": false}, "axis": {"orient": "left", "values": [20000, 40000, 60000, 80000], "labels": false, "title": null}}}}
   ], "resolve": {"scale": {"y": "independent"}}},
  {"width": 122, "height": 125, "data": {"name": "p6"}, "mark": {"type": "circle", "size": 20, "color": "#4C72B0", "stroke": "#ffffff", "strokeWidth": 0.5, "opacity": 1},
   "encoding": {"x": {"field": "BM", "type": "quantitative", "scale": {"domain": [0.9838, 1.0015], "nice": false, "zero": false}, "axis": {"values": [0.985, 0.99, 0.995, 1.0], "labels": false, "title": null}},
                "y": {"field": "RD", "type": "quantitative", "scale": {"domain": [7000, 85000], "nice": false, "zero": false}, "axis": {"values": [20000, 40000, 60000, 80000], "labels": false, "title": null}}}},

  {"width": 122, "height": 125, "data": {"name": "p3"}, "mark": {"type": "circle", "size": 20, "color": "#4C72B0", "stroke": "#ffffff", "strokeWidth": 0.5, "opacity": 1},
   "encoding": {"x": {"field": "RR", "type": "quantitative", "scale": {"domain": [-5.1, 25.2], "nice": false, "zero": false}, "axis": {"values": [0, 10, 20], "format": "d", "title": "Reflux ratio (mass basis)"}},
                "y": {"field": "BM", "type": "quantitative", "scale": {"domain": [0.98565, 1.0002], "nice": false, "zero": false}, "axis": {"values": [0.9875, 0.99, 0.9925, 0.995, 0.9975, 1.0], "format": ".4f", "title": "Butanol mass fraction (lb/lb)"}}}},
  {"width": 122, "height": 125, "data": {"name": "p5"}, "mark": {"type": "circle", "size": 20, "color": "#4C72B0", "stroke": "#ffffff", "strokeWidth": 0.5, "opacity": 1},
   "encoding": {"x": {"field": "SS", "type": "quantitative", "scale": {"domain": [-0.48, 1.9], "nice": false, "zero": false}, "axis": {"values": [0, 1], "format": "d", "title": "Side stream flow (lb/hr)"}},
                "y": {"field": "BM", "type": "quantitative", "scale": {"domain": [0.98565, 1.0002], "nice": false, "zero": false}, "axis": {"values": [0.9875, 0.99, 0.9925, 0.995, 0.9975, 1.0], "labels": false, "title": null}}}},
  {"width": 122, "height": 125, "data": {"name": "p6"}, "mark": {"type": "circle", "size": 20, "color": "#4C72B0", "stroke": "#ffffff", "strokeWidth": 0.5, "opacity": 1},
   "encoding": {"x": {"field": "RD", "type": "quantitative", "scale": {"domain": [-3000, 93800], "nice": false, "zero": false}, "axis": {"values": [0, 25000, 50000, 75000], "format": "d", "title": "Reboiler duty (Btu/hr)"}},
                "y": {"field": "BM", "type": "quantitative", "scale": {"domain": [0.98565, 1.0002], "nice": false, "zero": false}, "axis": {"values": [0.9875, 0.99, 0.9925, 0.995, 0.9975, 1.0], "labels": false, "title": null}}}},
  {"width": 122, "height": 125, "layer": [
    {"data": {"name": "kde_bm"}, "mark": {"type": "area", "color": "#4C72B0", "fillOpacity": 0.25, "interpolate": "monotone", "line": {"color": "#4C72B0", "strokeWidth": 1}},
     "encoding": {"x": {"field": "BM", "type": "quantitative", "scale": {"domain": [0.9838, 1.0015], "nice": false, "zero": false}, "axis": {"values": [0.985, 0.99, 0.995, 1.0], "format": ".3f", "title": "Butanol mass fraction (lb/lb)"}},
                  "y": {"field": "density", "type": "quantitative", "scale": {"domain": [0, 1], "nice": false}, "axis": null}}},
    {"data": {"name": "kde_bm"}, "mark": {"type": "point", "opacity": 0},
     "encoding": {"y": {"datum": 0.99, "type": "quantitative", "scale": {"domain": [0.98565, 1.0002], "nice": false, "zero": false}, "axis": {"orient": "left", "values": [0.9875, 0.99, 0.9925, 0.995, 0.9975, 1.0], "labels": false, "title": null}}}}
   ], "resolve": {"scale": {"y": "independent"}}}
 ]
},
{
 "title": {"text": "(b)", "offset": 20},
 "columns": 3,
 "spacing": {"row": 16, "column": 19.5},
 "bounds": "flush",
 "concat": [
  {"width": 149, "height": 162, "data": {"name": "p7"}, "mark": {"type": "circle", "size": 30, "color": "#4C72B0", "stroke": "#ffffff", "strokeWidth": 0.6, "opacity": 1},
   "encoding": {"x": {"field": "RR", "type": "quantitative", "scale": {"domain": [-1.07, 21.3], "nice": false, "zero": false}, "axis": {"values": [0, 10, 20], "labels": false, "title": null, "tickSize": 5}},
                "y": {"field": "AM", "type": "quantitative", "scale": {"domain": [0.9844, 0.9977], "nice": false, "zero": false}, "axis": {"values": [0.985, 0.9875, 0.99, 0.9925, 0.995, 0.9975], "format": ".4f", "title": "Acetone mass fraction (lb/lb)", "tickSize": 5, "labelFontSize": 11, "titleFontSize": 12.5, "labelPadding": 4, "titlePadding": 8}}}},
  {"width": 149, "height": 162, "data": {"name": "p8"}, "mark": {"type": "circle", "size": 30, "color": "#4C72B0", "stroke": "#ffffff", "strokeWidth": 0.6, "opacity": 1},
   "encoding": {"x": {"field": "SS", "type": "quantitative", "scale": {"domain": [-0.073, 1.52], "nice": false, "zero": false}, "axis": {"values": [0, 0.5, 1, 1.5], "labels": false, "title": null, "tickSize": 5}},
                "y": {"field": "AM", "type": "quantitative", "scale": {"domain": [0.9844, 0.9977], "nice": false, "zero": false}, "axis": {"values": [0.985, 0.9875, 0.99, 0.9925, 0.995, 0.9975], "labels": false, "title": null, "tickSize": 5}}}},
  {"width": 149, "height": 162, "data": {"name": "p9"}, "mark": {"type": "circle", "size": 30, "color": "#4C72B0", "stroke": "#ffffff", "strokeWidth": 0.6, "opacity": 1},
   "encoding": {"x": {"field": "RD", "type": "quantitative", "scale": {"domain": [6700, 85000], "nice": false, "zero": false}, "axis": {"values": [20000, 40000, 60000, 80000], "labels": false, "title": null, "tickSize": 5}},
                "y": {"field": "AM", "type": "quantitative", "scale": {"domain": [0.9844, 0.9977], "nice": false, "zero": false}, "axis": {"values": [0.985, 0.9875, 0.99, 0.9925, 0.995, 0.9975], "labels": false, "title": null, "tickSize": 5}}}},

  {"width": 149, "height": 162, "data": {"name": "p10"}, "mark": {"type": "circle", "size": 30, "color": "#4C72B0", "stroke": "#ffffff", "strokeWidth": 0.6, "opacity": 1},
   "encoding": {"x": {"field": "RR", "type": "quantitative", "scale": {"domain": [-1.07, 21.3], "nice": false, "zero": false}, "axis": {"values": [0, 10, 20], "labels": false, "title": null, "tickSize": 5}},
                "y": {"field": "EM", "type": "quantitative", "scale": {"domain": [0.8812, 0.9912], "nice": false, "zero": false}, "axis": {"values": [0.9, 0.92, 0.94, 0.96, 0.98], "format": ".2f", "title": "Ethanol mass fraction (lb/lb)", "tickSize": 5, "labelFontSize": 11, "titleFontSize": 12.5, "labelPadding": 4, "titlePadding": 8}}}},
  {"width": 149, "height": 162, "data": {"name": "p11"}, "mark": {"type": "circle", "size": 30, "color": "#4C72B0", "stroke": "#ffffff", "strokeWidth": 0.6, "opacity": 1},
   "encoding": {"x": {"field": "SS", "type": "quantitative", "scale": {"domain": [-0.073, 1.52], "nice": false, "zero": false}, "axis": {"values": [0, 0.5, 1, 1.5], "labels": false, "title": null, "tickSize": 5}},
                "y": {"field": "EM", "type": "quantitative", "scale": {"domain": [0.8812, 0.9912], "nice": false, "zero": false}, "axis": {"values": [0.9, 0.92, 0.94, 0.96, 0.98], "labels": false, "title": null, "tickSize": 5}}}},
  {"width": 149, "height": 162, "data": {"name": "p12"}, "mark": {"type": "circle", "size": 30, "color": "#4C72B0", "stroke": "#ffffff", "strokeWidth": 0.6, "opacity": 1},
   "encoding": {"x": {"field": "RD", "type": "quantitative", "scale": {"domain": [6700, 85000], "nice": false, "zero": false}, "axis": {"values": [20000, 40000, 60000, 80000], "labels": false, "title": null, "tickSize": 5}},
                "y": {"field": "EM", "type": "quantitative", "scale": {"domain": [0.8812, 0.9912], "nice": false, "zero": false}, "axis": {"values": [0.9, 0.92, 0.94, 0.96, 0.98], "labels": false, "title": null, "tickSize": 5}}}},

  {"width": 149, "height": 162, "data": {"name": "p3"}, "mark": {"type": "circle", "size": 30, "color": "#4C72B0", "stroke": "#ffffff", "strokeWidth": 0.6, "opacity": 1},
   "encoding": {"x": {"field": "RR", "type": "quantitative", "scale": {"domain": [-1.07, 21.3], "nice": false, "zero": false}, "axis": {"values": [0, 10, 20], "format": "d", "title": "Reflux ratio (mass basis)", "tickSize": 5, "labelFontSize": 11, "titleFontSize": 12.5, "labelPadding": 3, "titlePadding": 2}},
                "y": {"field": "BM", "type": "quantitative", "scale": {"domain": [0.98565, 1.0002], "nice": false, "zero": false}, "axis": {"values": [0.9875, 0.99, 0.9925, 0.995, 0.9975, 1.0], "format": ".4f", "title": "Butanol mass fraction (lb/lb)", "tickSize": 5, "labelFontSize": 11, "titleFontSize": 12.5, "labelPadding": 4, "titlePadding": 8}}}},
  {"width": 149, "height": 162, "data": {"name": "p5"}, "mark": {"type": "circle", "size": 30, "color": "#4C72B0", "stroke": "#ffffff", "strokeWidth": 0.6, "opacity": 1},
   "encoding": {"x": {"field": "SS", "type": "quantitative", "scale": {"domain": [-0.073, 1.52], "nice": false, "zero": false}, "axis": {"values": [0, 0.5, 1, 1.5], "format": ".1f", "title": "Side stream flow (lb/hr)", "tickSize": 5, "labelFontSize": 11, "titleFontSize": 12.5, "labelPadding": 3, "titlePadding": 2}},
                "y": {"field": "BM", "type": "quantitative", "scale": {"domain": [0.98565, 1.0002], "nice": false, "zero": false}, "axis": {"values": [0.9875, 0.99, 0.9925, 0.995, 0.9975, 1.0], "labels": false, "title": null, "tickSize": 5}}}},
  {"width": 149, "height": 162, "data": {"name": "p6"}, "mark": {"type": "circle", "size": 30, "color": "#4C72B0", "stroke": "#ffffff", "strokeWidth": 0.6, "opacity": 1},
   "encoding": {"x": {"field": "RD", "type": "quantitative", "scale": {"domain": [6700, 85000], "nice": false, "zero": false}, "axis": {"values": [20000, 40000, 60000, 80000], "format": "d", "title": "Reboiler duty (Btu/hr)", "tickSize": 5, "labelFontSize": 11, "titleFontSize": 12.5, "labelPadding": 3, "titlePadding": 2}},
                "y": {"field": "BM", "type": "quantitative", "scale": {"domain": [0.98565, 1.0002], "nice": false, "zero": false}, "axis": {"values": [0.9875, 0.99, 0.9925, 0.995, 0.9975, 1.0], "labels": false, "title": null, "tickSize": 5}}}}
 ]
}
],
"spacing": 67
}
